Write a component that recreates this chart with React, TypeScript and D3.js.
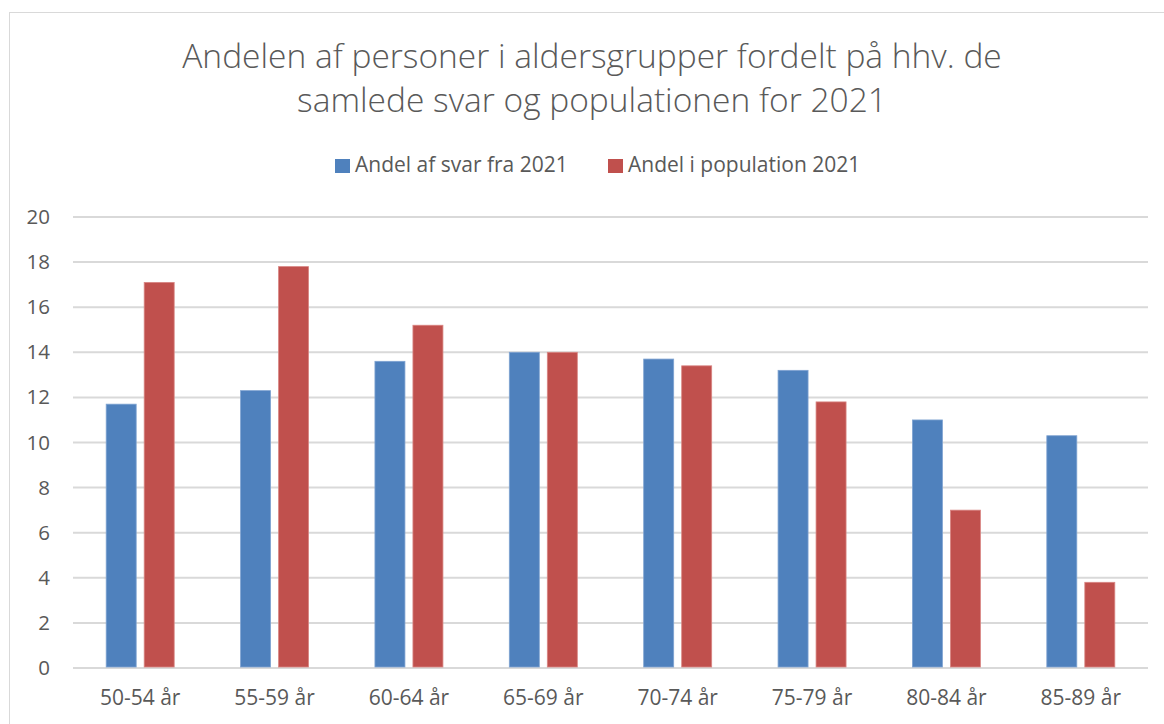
import React from "react";
import * as d3 from "d3";

const categories = ["50-54 år", "55-59 år", "60-64 år", "65-69 år", "70-74 år", "75-79 år", "80-84 år", "85-89 år"];
const svarValues = [11.7, 12.3, 13.6, 14.0, 13.7, 13.2, 11.0, 10.3];
const populationValues = [17.1, 17.8, 15.2, 14.0, 13.4, 11.8, 7.0, 3.8];
const seriesNames = ["Andel af svar fra 2021", "Andel i population 2021"];
const yTicks = [0, 2, 4, 6, 8, 10, 12, 14, 16, 18, 20];
const titleLines = ["Andelen af personer i aldersgrupper fordelt på hhv. de", "samlede svar og populationen for 2021"];

const W = 1164;
const H = 724;
const font = "'Open Sans', Lato, sans-serif";
const colors = ["#4f81bd", "#c0504d"];

export default function App() {
  const plot = { left: 73, right: 1148, top: 217, bottom: 668 };

  const x = d3.scaleBand().domain(categories).range([plot.left, plot.right]);
  const y = d3.scaleLinear().domain([0, 20]).range([plot.bottom, plot.top]);

  const barW = 30;
  const gap = 8;
  const series = [svarValues, populationValues];
  // legend item positions (square x)
  const legendX = [335, 608];

  return (
    <svg width={W} height={H} style={{ position: "absolute", left: 0, top: 0 }}>
      <rect x={0} y={0} width={W} height={H} fill="#fff" />
      {/* chart frame */}
      <rect x={9.5} y={12.5} width={W + 10} height={H + 10} fill="none" stroke="#d9d9d9" strokeWidth={1} />

      {titleLines.map((t, i) => (
        <text key={i} x={592} y={68 + i * 44} textAnchor="middle" fontFamily={font} fontWeight={300} fontSize={33.5} fill="#595959">
          {t}
        </text>
      ))}

      {/* legend */}
      {seriesNames.map((name, s) => (
        <g key={name}>
          <rect x={legendX[s]} y={159} width={15} height={14} fill={colors[s]} />
          <text x={legendX[s] + 20} y={172} fontFamily={font} fontSize={21} fill="#595959">{name}</text>
        </g>
      ))}

      {/* gridlines */}
      {yTicks.map((t) => (
        <g key={t}>
          <line x1={plot.left} x2={plot.right} y1={y(t)} y2={y(t)} stroke="#d9d9d9" strokeWidth={2} />
          <text x={50} y={y(t) + 7} textAnchor="end" fontFamily={font} fontSize={20.5} fill="#595959">{t}</text>
        </g>
      ))}

      {/* bars */}
      {categories.map((c, i) => {
        const cx = (x(c) as number) + x.bandwidth() / 2;
        return (
          <g key={c}>
            {series.map((vals, s) => {
              const bx = s === 0 ? cx - gap / 2 - barW : cx + gap / 2;
              return (
                <rect
                  key={s}
                  x={bx}
                  y={y(vals[i])}
                  width={barW}
                  height={y(0) - y(vals[i]) - 1}
                  fill={colors[s]}
                  stroke={s === 0 ? "#7fa3d1" : "#d98683"}
                  strokeWidth={0.8}
                />
              );
            })}
            <text x={cx} y={705} textAnchor="middle" fontFamily={font} fontSize={21} fill="#595959">{c}</text>
          </g>
        );
      })}
    </svg>
  );
}
